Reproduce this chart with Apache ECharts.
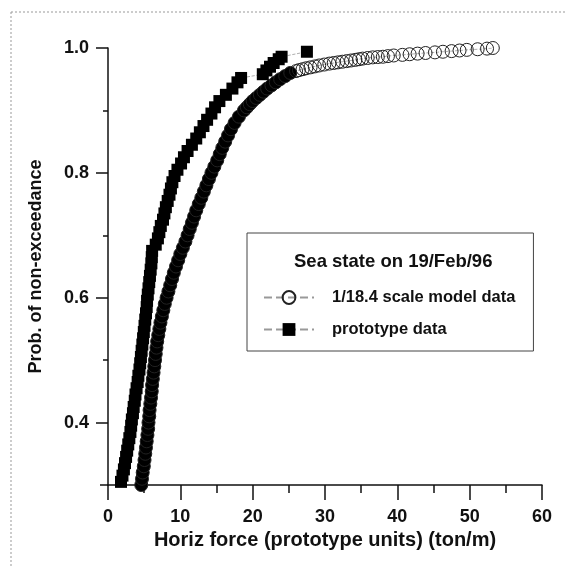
<!DOCTYPE html>
<html>
<head>
<meta charset="utf-8">
<script src="https://cdn.jsdelivr.net/npm/echarts@6/dist/echarts.min.js"></script>
<style>
  html, body { margin: 0; background: #fff; }
  #chart { width: 566px; height: 567px; }
</style>
</head>
<body>
<div id="chart"></div>
<script>
// 1/18.4 scale model data (prototype units)
const modelX = [4.6, 4.7, 4.8, 4.95, 5.05, 5.15, 5.25, 5.35, 5.45, 5.55,
  5.6, 5.7, 5.75, 5.85, 5.95, 6.05, 6.1, 6.2, 6.3, 6.4,
  6.5, 6.6, 6.7, 6.8, 6.95, 7.1, 7.25, 7.45, 7.65, 7.85,
  8.1, 8.35, 8.6, 8.85, 9.1, 9.4, 9.7, 10.0, 10.35, 10.7,
  11.0, 11.3, 11.6, 11.9, 12.2, 12.55, 12.9, 13.25, 13.6, 13.95,
  14.3, 14.7, 15.1, 15.45, 15.8, 16.2, 16.6, 17.0, 17.5, 18.1,
  18.8, 19.2, 19.6, 20.0, 20.5, 21.0, 21.5, 22.0, 22.6, 23.2,
  23.8, 24.5, 25.2, 26.0, 26.4, 26.9, 27.4, 28.0, 28.6, 29.2,
  29.9, 30.6, 31.2, 31.8, 32.4, 33.0, 33.6, 34.2, 34.7, 35.2,
  35.9, 36.6, 37.3, 38.0, 38.7, 39.5, 40.7, 41.7, 42.8, 43.9,
  45.2, 46.3, 47.5, 48.6, 49.6, 51.1, 52.4, 53.2]
const modelY = [0.30, 0.31, 0.32, 0.33, 0.34, 0.35, 0.36, 0.37, 0.38, 0.39,
  0.40, 0.41, 0.42, 0.43, 0.44, 0.45, 0.46, 0.47, 0.48, 0.49,
  0.50, 0.51, 0.52, 0.53, 0.54, 0.55, 0.56, 0.57, 0.58, 0.59,
  0.60, 0.61, 0.62, 0.63, 0.64, 0.65, 0.66, 0.67, 0.68, 0.69,
  0.70, 0.71, 0.72, 0.73, 0.74, 0.75, 0.76, 0.77, 0.78, 0.79,
  0.80, 0.81, 0.82, 0.83, 0.84, 0.85, 0.86, 0.87, 0.88, 0.89,
  0.90, 0.905, 0.91, 0.915, 0.92, 0.925, 0.93, 0.935, 0.94, 0.945,
  0.95, 0.955, 0.96, 0.963, 0.9645, 0.966, 0.9675, 0.969, 0.9705, 0.972,
  0.9735, 0.975, 0.976, 0.977, 0.978, 0.979, 0.980, 0.981, 0.982, 0.983,
  0.984, 0.985, 0.9855, 0.986, 0.987, 0.988, 0.989, 0.990, 0.991, 0.992,
  0.993, 0.994, 0.995, 0.996, 0.997, 0.998, 0.999, 1.0]

// prototype data
const protoX = [1.8, 2.0, 2.2, 2.35, 2.5, 2.65, 2.8, 2.95, 3.1, 3.2,
  3.3, 3.45, 3.55, 3.7, 3.8, 3.95, 4.1, 4.2, 4.35, 4.45,
  4.55, 4.65, 4.75, 4.85, 4.95, 5.05, 5.15, 5.25, 5.35, 5.4,
  5.5, 5.6, 5.7, 5.8, 5.9, 6.0, 6.05, 6.1, 6.6, 6.9,
  7.1, 7.3, 7.6, 7.8, 8.0, 8.25, 8.5, 8.7, 8.9, 9.2,
  9.6, 10.1, 10.5, 11.0, 11.6, 12.2, 12.7, 13.2, 13.7, 14.3,
  14.8, 15.4, 16.3, 17.2, 17.9, 18.4, 21.4, 21.9, 22.4, 22.9,
  23.6, 24.0, 27.5]
const protoY = [0.305, 0.315, 0.325, 0.335, 0.345, 0.355, 0.365, 0.375, 0.385, 0.395,
  0.405, 0.415, 0.425, 0.435, 0.445, 0.455, 0.465, 0.475, 0.485, 0.495,
  0.505, 0.515, 0.525, 0.535, 0.545, 0.555, 0.565, 0.575, 0.585, 0.595,
  0.605, 0.615, 0.625, 0.635, 0.645, 0.655, 0.665, 0.675, 0.685, 0.695,
  0.705, 0.715, 0.725, 0.735, 0.745, 0.755, 0.765, 0.775, 0.785, 0.795,
  0.805, 0.815, 0.825, 0.835, 0.845, 0.855, 0.865, 0.875, 0.885, 0.895,
  0.905, 0.915, 0.925, 0.935, 0.945, 0.952, 0.958, 0.964, 0.970, 0.976,
  0.982, 0.986, 0.994]

const yLabelTicks = [0.4, 0.6, 0.8, 1.0]
const yMinorTicks = [0.5, 0.7, 0.9]

const modelName = '1/18.4 scale model data'
const protoName = 'prototype data'
const font = 'Liberation Sans, Arial, sans-serif'

// dense part of the model curve prints as a solid band
const modelData = modelX.map((x, i) => {
  let d = {value: [x, modelY[i]]}
  if (modelY[i] < 0.962) d.itemStyle = {color: '#000'}
  return d
})
const protoData = protoX.map((x, i) => [x, protoY[i]])

const chart = echarts.init(document.getElementById('chart'))

chart.setOption({
  animation: false,
  backgroundColor: '#fff',
  grid: {left: 108, right: 24, top: 48, bottom: 82},
  title: {
    text: 'Sea state on 19/Feb/96',
    left: 294,
    top: 252,
    padding: 0,
    textStyle: {fontFamily: font, fontSize: 18.5, fontWeight: 'bold', color: '#111'}
  },
  legend: {
    orient: 'vertical',
    left: 247,
    top: 233,
    padding: [56, 18, 13, 16],
    itemGap: 15,
    itemWidth: 50,
    itemHeight: 16,
    borderColor: '#444',
    borderWidth: 1,
    data: [modelName, protoName],
    textStyle: {fontFamily: font, fontSize: 16.5, fontWeight: 'bold', color: '#111', padding: [0, 0, 0, 13]}
  },
  xAxis: {
    type: 'value',
    min: 0,
    max: 60,
    interval: 10,
    name: 'Horiz force (prototype units) (ton/m)',
    nameLocation: 'middle',
    nameGap: 40,
    nameTextStyle: {fontFamily: font, fontSize: 20, fontWeight: 'bold', color: '#111'},
    axisLine: {lineStyle: {color: '#111', width: 1.5}},
    axisTick: {length: 15, lineStyle: {color: '#111', width: 1.5}},
    minorTick: {show: true, splitNumber: 2, length: 8, lineStyle: {color: '#111', width: 1.5}},
    axisLabel: {margin: 23, fontFamily: font, fontSize: 18, fontWeight: 'bold', color: '#111'},
    splitLine: {show: false}
  },
  yAxis: [
    {
      type: 'value',
      min: 0.3,
      max: 1.0,
      interval: 0.1,
      name: 'Prob. of non-exceedance',
      nameLocation: 'middle',
      nameGap: 63,
      nameTextStyle: {fontFamily: font, fontSize: 18, fontWeight: 'bold', color: '#111'},
      axisLine: {show: true, lineStyle: {color: '#111', width: 1.5}},
      axisTick: {length: 12, customValues: yLabelTicks, lineStyle: {color: '#111', width: 1.5}},
      axisLabel: {
        margin: 19,
        customValues: yLabelTicks,
        formatter: v => v.toFixed(1),
        fontFamily: font, fontSize: 18, fontWeight: 'bold', color: '#111'
      },
      splitLine: {show: false}
    },
    {
      type: 'value',
      min: 0.3,
      max: 1.0,
      interval: 0.1,
      position: 'left',
      axisLine: {show: false},
      axisTick: {show: true, length: 5, customValues: yMinorTicks, lineStyle: {color: '#111', width: 1.5}},
      axisLabel: {show: false},
      splitLine: {show: false}
    }
  ],
  series: [
    {
      name: modelName,
      type: 'line',
      data: modelData,
      showAllSymbol: true,
      symbol: 'circle',
      symbolSize: 13,
      itemStyle: {color: 'rgba(255,255,255,0)', borderColor: '#222', borderWidth: 1},
      lineStyle: {color: '#999', width: 0.8, type: 'dashed'},
      z: 2
    },
    {
      name: protoName,
      type: 'line',
      data: protoData,
      showAllSymbol: true,
      symbol: 'rect',
      symbolSize: 12,
      itemStyle: {color: '#000', borderWidth: 0},
      lineStyle: {color: '#999', width: 0.8, type: 'dashed'},
      z: 3
    }
  ],
  graphic: [
    {type: 'line', shape: {x1: 11, y1: 12, x2: 566, y2: 12}, style: {stroke: '#999', lineWidth: 1, lineDash: [2, 2]}, silent: true},
    {type: 'line', shape: {x1: 11, y1: 12, x2: 11, y2: 567}, style: {stroke: '#999', lineWidth: 1, lineDash: [2, 2]}, silent: true},
    {type: 'line', shape: {x1: 100, y1: 485, x2: 108, y2: 485}, style: {stroke: '#111', lineWidth: 1.5}, silent: true}
  ]
})
</script>
</body>
</html>
